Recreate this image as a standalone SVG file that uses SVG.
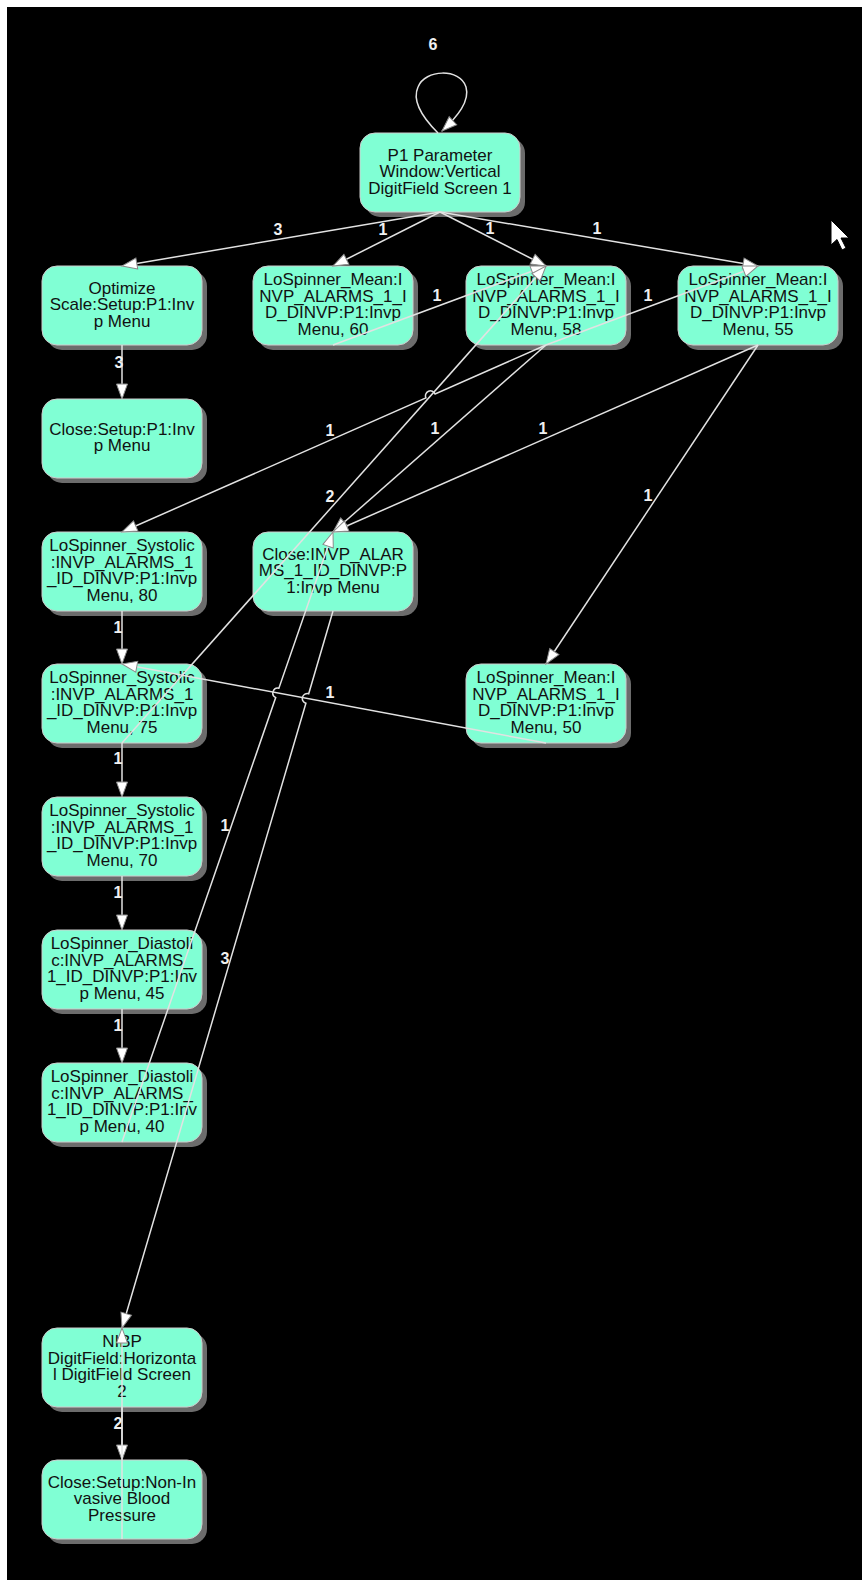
<svg xmlns="http://www.w3.org/2000/svg" width="862" height="1580" viewBox="0 0 862 1580">
  <defs>
    <style>
      .shadow { fill: #6c6c6c; }
      .node { fill: #80ffd4; stroke: #cdcdcd; stroke-width: 1; }
      .nt { font-family: "Liberation Sans", Arial, sans-serif; font-size: 17px; fill: #111111; text-anchor: middle; }
      .edge { fill: none; stroke: #e2e2e2; stroke-width: 1.5; marker-end: url(#arrow); }
      .lbl { font-family: "Liberation Sans", Arial, sans-serif; font-size: 16px; font-weight: bold; fill: #f0f0f0; text-anchor: middle; }
    </style>
    <marker id="arrow" markerUnits="userSpaceOnUse" markerWidth="17" markerHeight="13" refX="15" refY="6" orient="auto" overflow="visible">
      <path d="M0,0.5 L15,6 L0,11.5 Z" fill="#ffffff" stroke="#8a8a8a" stroke-width="1"/>
    </marker>
  </defs>

  <!-- canvas -->
  <rect x="0" y="0" width="862" height="1580" fill="#ffffff"/>
  <rect x="7" y="7" width="855" height="1573" fill="#000000"/>

  <!-- nodes -->
  <g id="n-p1">
    <rect class="shadow" x="365" y="138" width="160" height="79" rx="15"/>
    <rect class="node" x="360" y="133" width="160" height="79" rx="15"/>
    <text class="nt"><tspan x="440" y="160.5">P1 Parameter</tspan><tspan x="440" y="177">Window:Vertical</tspan><tspan x="440" y="193.5">DigitField Screen 1</tspan></text>
  </g>

  <g id="n-optimize">
    <rect class="shadow" x="47" y="271" width="160" height="79" rx="15"/>
    <rect class="node" x="42" y="266" width="160" height="79" rx="15"/>
    <text class="nt"><tspan x="122" y="293.5">Optimize</tspan><tspan x="122" y="310">Scale:Setup:P1:Inv</tspan><tspan x="122" y="326.5">p Menu</tspan></text>
  </g>

  <g id="n-mean60">
    <rect class="shadow" x="258" y="271" width="160" height="79" rx="15"/>
    <rect class="node" x="253" y="266" width="160" height="79" rx="15"/>
    <text class="nt"><tspan x="333" y="285.25">LoSpinner_Mean:I</tspan><tspan x="333" y="301.75">NVP_ALARMS_1_I</tspan><tspan x="333" y="318.25">D_DINVP:P1:Invp</tspan><tspan x="333" y="334.75">Menu, 60</tspan></text>
  </g>

  <g id="n-mean58">
    <rect class="shadow" x="471" y="271" width="160" height="79" rx="15"/>
    <rect class="node" x="466" y="266" width="160" height="79" rx="15"/>
    <text class="nt"><tspan x="546" y="285.25">LoSpinner_Mean:I</tspan><tspan x="546" y="301.75">NVP_ALARMS_1_I</tspan><tspan x="546" y="318.25">D_DINVP:P1:Invp</tspan><tspan x="546" y="334.75">Menu, 58</tspan></text>
  </g>

  <g id="n-mean55">
    <rect class="shadow" x="683" y="271" width="160" height="79" rx="15"/>
    <rect class="node" x="678" y="266" width="160" height="79" rx="15"/>
    <text class="nt"><tspan x="758" y="285.25">LoSpinner_Mean:I</tspan><tspan x="758" y="301.75">NVP_ALARMS_1_I</tspan><tspan x="758" y="318.25">D_DINVP:P1:Invp</tspan><tspan x="758" y="334.75">Menu, 55</tspan></text>
  </g>

  <g id="n-close-setup-p1">
    <rect class="shadow" x="47" y="404" width="160" height="79" rx="15"/>
    <rect class="node" x="42" y="399" width="160" height="79" rx="15"/>
    <text class="nt"><tspan x="122" y="434.75">Close:Setup:P1:Inv</tspan><tspan x="122" y="451.25">p Menu</tspan></text>
  </g>

  <g id="n-systolic80">
    <rect class="shadow" x="47" y="537" width="160" height="79" rx="15"/>
    <rect class="node" x="42" y="532" width="160" height="79" rx="15"/>
    <text class="nt"><tspan x="122" y="551.25">LoSpinner_Systolic</tspan><tspan x="122" y="567.75">:INVP_ALARMS_1</tspan><tspan x="122" y="584.25">_ID_DINVP:P1:Invp</tspan><tspan x="122" y="600.75">Menu, 80</tspan></text>
  </g>

  <g id="n-close-invp">
    <rect class="shadow" x="258" y="537" width="160" height="79" rx="15"/>
    <rect class="node" x="253" y="532" width="160" height="79" rx="15"/>
    <text class="nt"><tspan x="333" y="559.5">Close:INVP_ALAR</tspan><tspan x="333" y="576">MS_1_ID_DINVP:P</tspan><tspan x="333" y="592.5">1:Invp Menu</tspan></text>
  </g>

  <g id="n-systolic75">
    <rect class="shadow" x="47" y="669" width="160" height="79" rx="15"/>
    <rect class="node" x="42" y="664" width="160" height="79" rx="15"/>
    <text class="nt"><tspan x="122" y="683.25">LoSpinner_Systolic</tspan><tspan x="122" y="699.75">:INVP_ALARMS_1</tspan><tspan x="122" y="716.25">_ID_DINVP:P1:Invp</tspan><tspan x="122" y="732.75">Menu, 75</tspan></text>
  </g>

  <g id="n-mean50">
    <rect class="shadow" x="471" y="669" width="160" height="79" rx="15"/>
    <rect class="node" x="466" y="664" width="160" height="79" rx="15"/>
    <text class="nt"><tspan x="546" y="683.25">LoSpinner_Mean:I</tspan><tspan x="546" y="699.75">NVP_ALARMS_1_I</tspan><tspan x="546" y="716.25">D_DINVP:P1:Invp</tspan><tspan x="546" y="732.75">Menu, 50</tspan></text>
  </g>

  <g id="n-systolic70">
    <rect class="shadow" x="47" y="802" width="160" height="79" rx="15"/>
    <rect class="node" x="42" y="797" width="160" height="79" rx="15"/>
    <text class="nt"><tspan x="122" y="816.25">LoSpinner_Systolic</tspan><tspan x="122" y="832.75">:INVP_ALARMS_1</tspan><tspan x="122" y="849.25">_ID_DINVP:P1:Invp</tspan><tspan x="122" y="865.75">Menu, 70</tspan></text>
  </g>

  <g id="n-diastolic45">
    <rect class="shadow" x="47" y="935" width="160" height="79" rx="15"/>
    <rect class="node" x="42" y="930" width="160" height="79" rx="15"/>
    <text class="nt"><tspan x="122" y="949.25">LoSpinner_Diastoli</tspan><tspan x="122" y="965.75">c:INVP_ALARMS_</tspan><tspan x="122" y="982.25">1_ID_DINVP:P1:Inv</tspan><tspan x="122" y="998.75">p Menu, 45</tspan></text>
  </g>

  <g id="n-diastolic40">
    <rect class="shadow" x="47" y="1068" width="160" height="79" rx="15"/>
    <rect class="node" x="42" y="1063" width="160" height="79" rx="15"/>
    <text class="nt"><tspan x="122" y="1082.25">LoSpinner_Diastoli</tspan><tspan x="122" y="1098.75">c:INVP_ALARMS_</tspan><tspan x="122" y="1115.25">1_ID_DINVP:P1:Inv</tspan><tspan x="122" y="1131.75">p Menu, 40</tspan></text>
  </g>

  <g id="n-nibp">
    <rect class="shadow" x="47" y="1333" width="160" height="79" rx="15"/>
    <rect class="node" x="42" y="1328" width="160" height="79" rx="15"/>
    <text class="nt"><tspan x="122" y="1347.25">NIBP</tspan><tspan x="122" y="1363.75">DigitField:Horizonta</tspan><tspan x="122" y="1380.25">l DigitField Screen</tspan><tspan x="122" y="1396.75">2</tspan></text>
  </g>

  <g id="n-close-nibp">
    <rect class="shadow" x="47" y="1465" width="160" height="79" rx="15"/>
    <rect class="node" x="42" y="1460" width="160" height="79" rx="15"/>
    <text class="nt"><tspan x="122" y="1487.5">Close:Setup:Non-In</tspan><tspan x="122" y="1504">vasive Blood</tspan><tspan x="122" y="1520.5">Pressure</tspan></text>
  </g>

  <!-- connectors: bottom centre of source to top centre of target -->
  <g id="connectors">
    <path class="edge" d="M438,133 C418,113 413,98 418,87 C425,69 460,68 466,87 C470,101 458,116 442,131"/>
    <path class="edge" d="M440,212 L122,266"/>
    <path class="edge" d="M440,212 L333,266"/>
    <path class="edge" d="M440,212 L546,266"/>
    <path class="edge" d="M440,212 L758,266"/>
    <path class="edge" d="M333,345 L546,266"/>
    <path class="edge" d="M546,345 L758,266"/>
    <path class="edge" d="M122,345 L122,399"/>
    <path class="edge" d="M546,345 L435.1,393.9 A5,5 0 0 0 425.9,397.9 L122,532"/>
    <path class="edge" d="M546,345 L333,532"/>
    <path class="edge" d="M758,345 L333,532"/>
    <path class="edge" d="M122,743 L546,266"/>
    <path class="edge" d="M758,345 L546,664"/>
    <path class="edge" d="M122,611 L122,664"/>
    <path class="edge" d="M546,743 L122,664"/>
    <path class="edge" d="M122,743 L122,797"/>
    <path class="edge" d="M122,1142 L275.7,697.6 A5,5 0 0 1 278.9,688.2 L333,532"/>
    <path class="edge" d="M122,876 L122,930"/>
    <path class="edge" d="M333,611 L308.7,693.7 A5,5 0 0 0 305.9,703.3 L122,1328"/>
    <path class="edge" d="M122,1009 L122,1063"/>
    <path class="edge" d="M122,1407 L122,1460"/>
    <path class="edge" d="M122,1539 L122,1328"/>
  </g>

  <!-- connector labels -->
  <g id="connector-labels">
    <text class="lbl" x="433" y="50">6</text>
    <text class="lbl" x="278" y="235">3</text>
    <text class="lbl" x="383" y="235">1</text>
    <text class="lbl" x="490" y="234">1</text>
    <text class="lbl" x="597" y="234">1</text>
    <text class="lbl" x="437" y="301">1</text>
    <text class="lbl" x="648" y="301">1</text>
    <text class="lbl" x="119" y="368">3</text>
    <text class="lbl" x="330" y="436">1</text>
    <text class="lbl" x="435" y="434">1</text>
    <text class="lbl" x="543" y="434">1</text>
    <text class="lbl" x="330" y="502">2</text>
    <text class="lbl" x="648" y="501">1</text>
    <text class="lbl" x="118" y="633">1</text>
    <text class="lbl" x="330" y="698">1</text>
    <text class="lbl" x="118" y="764">1</text>
    <text class="lbl" x="225" y="831">1</text>
    <text class="lbl" x="118" y="898">1</text>
    <text class="lbl" x="225" y="964">3</text>
    <text class="lbl" x="118" y="1031">1</text>
    <text class="lbl" x="118" y="1429">2</text>
  </g>

  <!-- mouse pointer -->
  <polygon points="831,220 831,245 837,239.5 842,250 846,248 841,238 849,238" fill="#ffffff" stroke="#000000" stroke-width="1"/>
</svg>
